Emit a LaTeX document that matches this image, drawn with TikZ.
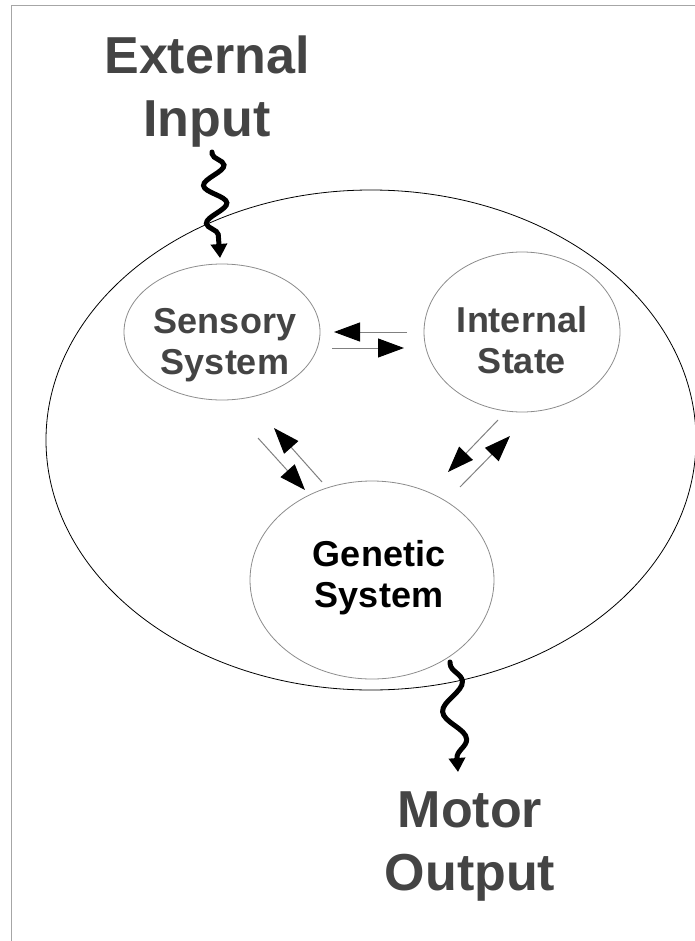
\documentclass[tikz,border=0pt]{standalone}
\usepackage{fontspec}
\setmainfont{Liberation Sans}
\usetikzlibrary{shapes.geometric,arrows.meta,decorations.pathmorphing}

\definecolor{labelgray}{HTML}{444444}

\tikzset{
  part/.style={ellipse, draw=gray!90, line width=0.8pt, inner sep=0pt},
  partlabel/.style={align=center, font=\fontsize{36}{41}\selectfont\bfseries, text=labelgray},
  biglabel/.style={align=center, font=\fontsize{52}{63}\selectfont\bfseries, text=labelgray},
  link/.style={draw=gray, line width=1pt, -{Triangle[length=26pt,width=19pt,black]}},
  wave/.style={line width=5pt, black, line cap=round,
    decoration={snake, amplitude=11pt, segment length=#1, pre length=2pt, post length=14pt},
    decorate, -{Triangle[length=14pt,width=16pt]}},
  wave/.default=38pt
}

\begin{document}
\begin{tikzpicture}[x=1pt,y=-1pt]
  \useasboundingbox (0,0) rectangle (695,941);

  % Frame
  \draw[gray!70, line width=1pt] (11,941) -- (11,6) -- (695,6);

  % Organism
  \draw[black, line width=0.8pt] (371,440) ellipse (325 and 250);

  % Parts
  \node[part, minimum width=196, minimum height=136] (sensory) at (222,332) {};
  \node[part, minimum width=196, minimum height=160] (internal) at (522,332) {};
  \node[part, minimum width=244, minimum height=198] (genetic) at (372,580) {};
  \node[partlabel] (sensorytext) at (225,345) {Sensory\\System};
  \node[partlabel] (internaltext) at (522,340) {Internal\\State};
  \node[partlabel, text=black] (genetictext) at (379,578) {Genetic\\System};

  % Outside world
  \node[biglabel] (input) at (207,92) {External\\Input};
  \node[biglabel] (output) at (470,846) {Motor\\Output};

  % Arrow ends
  \coordinate (si1) at (407,332);  \coordinate (si2) at (334,332);
  \coordinate (si3) at (332,348);  \coordinate (si4) at (404,348);
  \coordinate (sg1) at (258,438);  \coordinate (sg2) at (305,490);
  \coordinate (sg3) at (322,482);  \coordinate (sg4) at (274,428);
  \coordinate (ig1) at (498,420);  \coordinate (ig2) at (448,472);
  \coordinate (ig3) at (460,487);  \coordinate (ig4) at (510,436);
  \coordinate (in1) at (212,152);  \coordinate (in2) at (220,258);
  \coordinate (out1) at (450,662); \coordinate (out2) at (458,772);

  % Connectors
  \draw[link] (si1) -- (si2);
  \draw[link] (si3) -- (si4);
  \draw[link] (sg1) -- (sg2);
  \draw[link] (sg3) -- (sg4);
  \draw[link] (ig1) -- (ig2);
  \draw[link] (ig3) -- (ig4);

  % Wavy input and output
  \draw[wave] (in1) -- (in2);
  \draw[wave=58pt] (out1) -- (out2);
\end{tikzpicture}
\end{document}
